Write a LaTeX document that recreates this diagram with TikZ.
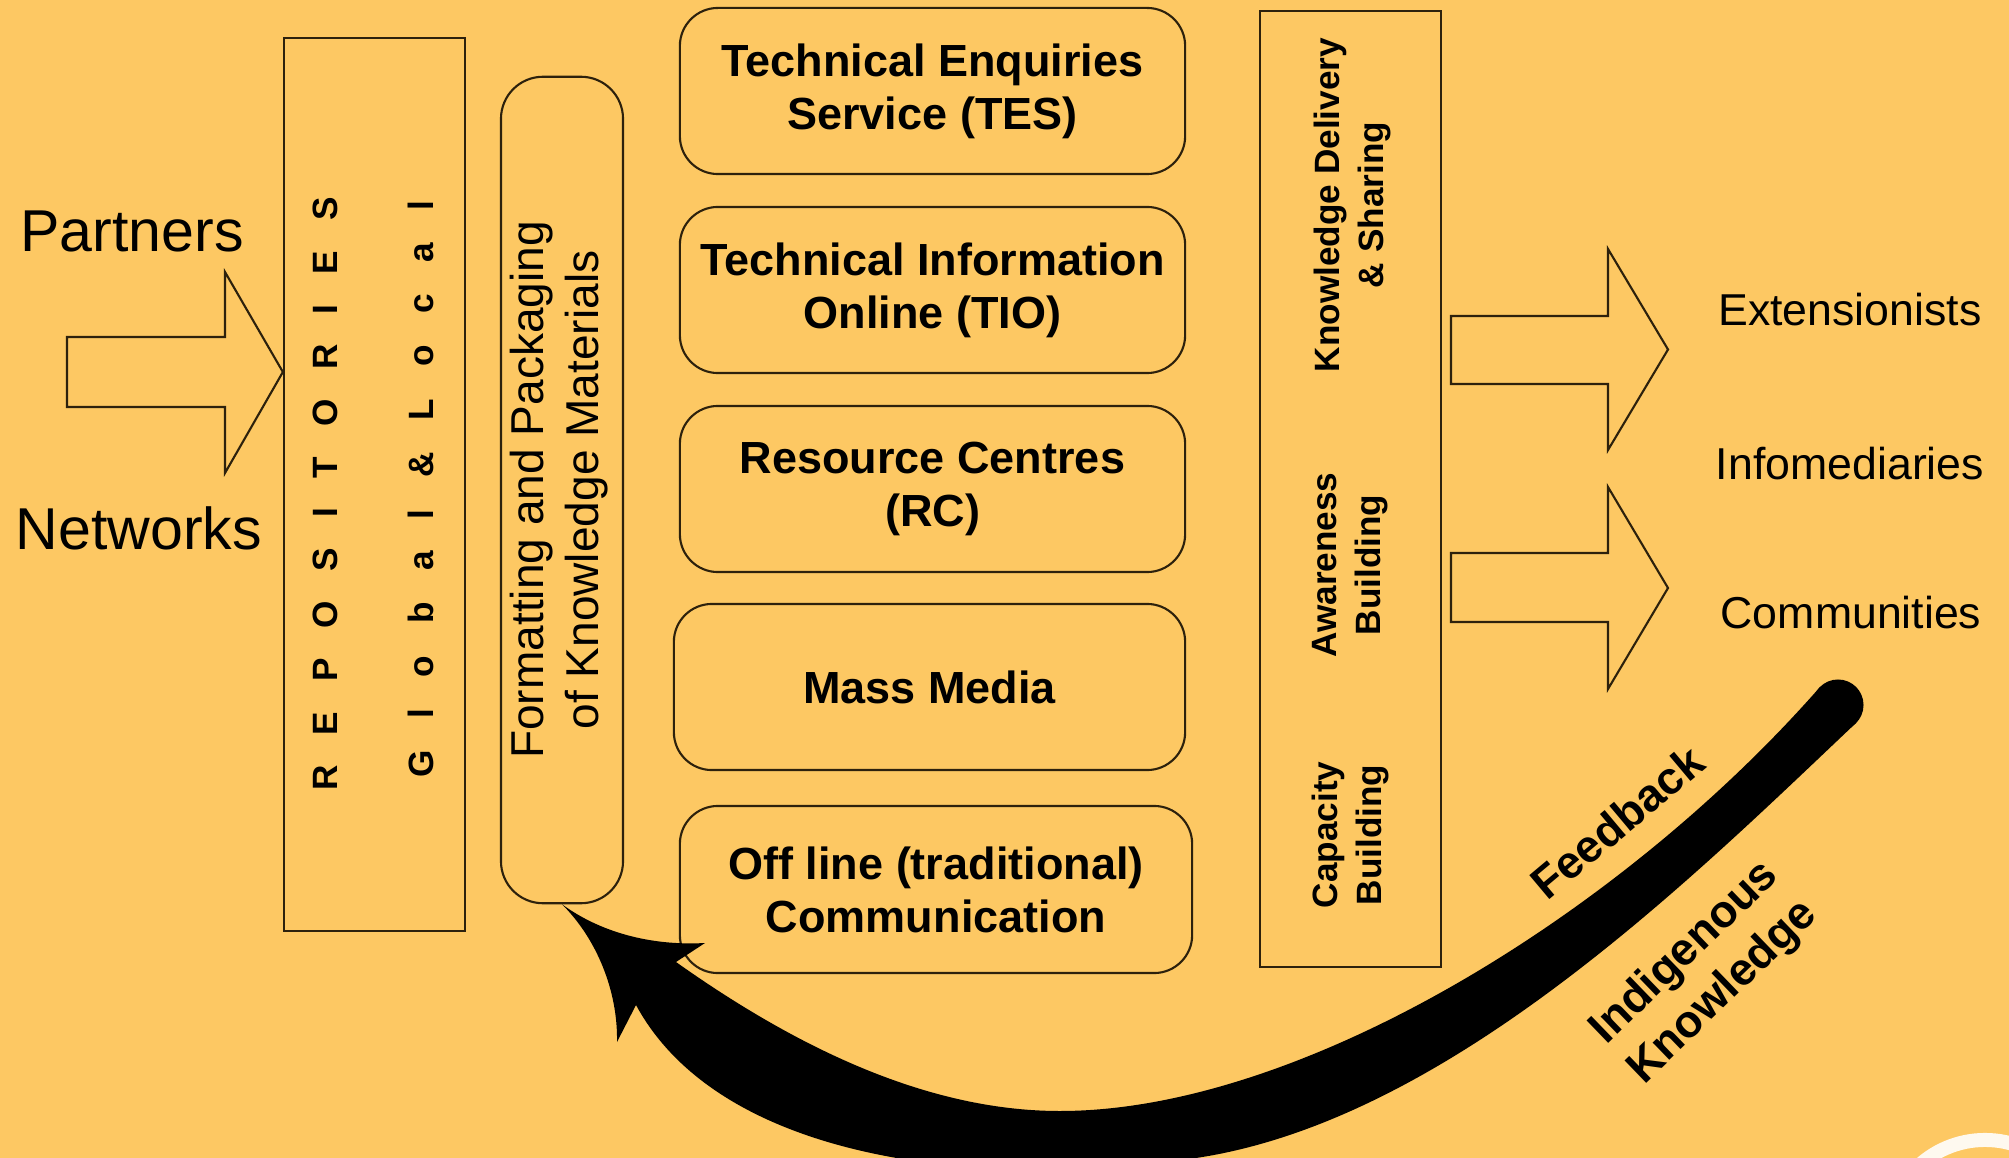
\documentclass[tikz,border=0pt]{standalone}
\usepackage{fontspec}
\setmainfont{Liberation Sans}
\definecolor{bgc}{RGB}{253,200,99}
\definecolor{linec}{RGB}{45,33,12}
\begin{document}
\begin{tikzpicture}[x=0.01cm,y=-0.01cm,
  outl/.style={draw=linec, line width=0.6pt},
  rbox/.style={outl, rounded corners=0.38cm, inner sep=0pt, align=center,
     font=\bfseries\fontsize{12.8pt}{15.1pt}\selectfont},
  sqbox/.style={outl, inner sep=0pt},
  spaced/.style={rotate=90, anchor=base, inner sep=0pt, font=\bfseries\fontsize{10pt}{12pt}\selectfont},
  sidetext/.style={rotate=90, align=center, inner sep=0pt, font=\bfseries\fontsize{10pt}{12.5pt}\selectfont},
  biglabel/.style={anchor=base, inner sep=0pt, font=\fontsize{16.8pt}{20pt}\selectfont},
  target/.style={anchor=base, inner sep=0pt, font=\fontsize{12.7pt}{15pt}\selectfont},
  curvelabel/.style={align=center, inner sep=0pt, font=\bfseries\fontsize{12.9pt}{15.6pt}\selectfont}]

\fill[bgc] (0,0) rectangle (2009,1158);
\useasboundingbox (0,0) rectangle (2009,1158);
\clip (0,0) rectangle (2009,1158);

% left labels and arrow
\node[biglabel] (partners) at (132,252) {Partners};
\node[biglabel] (networks) at (139,549) {Networks};

% repositories
\node[sqbox, minimum width=1.81cm, minimum height=8.93cm] (repo) at (374.5,484.5) {};
\foreach \ch/\yy [count=\i] in {R/777.6,E/723.3,P/670,O/615,S/559.5,I/513,T/467.3,O/413,R/357,I/309.5,E/263,S/209}
  \node[spaced] (rep\i) at (337,\yy) {\ch};
\foreach \ch/\yy [count=\i] in {G/764,l/713.8,o/666.4,b/613,a/560.6,l/514.3,\&/465,L/409.5,o/356.1,c/303.7,a/252.3,l/206}
  \node[spaced] (glo\i) at (433,\yy) {\ch};

\draw[outl] (67,337) -- (225,337) -- (225,272) -- (repo.west |- 0,372) -- (225,473) -- (225,407) -- (67,407) -- cycle;

% formatting
\node[outl, rounded corners=0.42cm, minimum width=1.22cm, minimum height=8.26cm, inner sep=0pt] (fmt) at (562,490) {};
\node[rotate=90, align=center, inner sep=0pt, font=\fontsize{13.1pt}{15.8pt}\selectfont] (fmttext) at (559,490) {Formatting and Packaging\\of Knowledge Materials};

% channels
\node[rbox, minimum width=5.05cm, minimum height=1.66cm] (tes) at (932.5,91) {Technical Enquiries\\Service (TES)};
\node[rbox, minimum width=5.05cm, minimum height=1.66cm] (tio) at (932.5,290) {Technical Information\\Online (TIO)};
\node[rbox, minimum width=5.05cm, minimum height=1.66cm] (rc) at (932.5,489) {Resource Centres\\(RC)};
\node[rbox, minimum width=5.11cm, minimum height=1.66cm] (mm) at (929.5,687) {Mass Media};
\node[rbox, minimum width=5.12cm, minimum height=1.67cm] (ol) at (936,889.5) {Off line (traditional)\\Communication};

% delivery column
\node[sqbox, minimum width=1.81cm, minimum height=9.56cm] (kd) at (1350.5,489) {};
\node[sidetext] (kdt) at (1352,205) {Knowledge Delivery\\\& Sharing};
\node[sidetext] (abt) at (1350,565) {Awareness\\Building};
\node[sidetext] (cbt) at (1350,835) {Capacity\\Building};

% right arrows
\draw[outl] (1451,316) -- (1608,316) -- (1608,249) -- (1668,349.5) -- (1608,450) -- (1608,384) -- (1451,384) -- cycle;
\draw[outl] (1451,553) -- (1608,553) -- (1608,487) -- (1668,588) -- (1608,689) -- (1608,622) -- (1451,622) -- cycle;

\node[target] (ext) at (1850,326) {Extensionists};
\node[target] (info) at (1850,480) {Infomediaries};
\node[target] (comm) at (1851,628) {Communities};

% feedback curved arrow
\coordinate (tip) at (fmt.south);
\fill[black] (tip) .. controls (600,932) and (650,946) .. (705,943) -- (676,962)
  .. controls (800,1050) and (930,1111) .. (1060,1111)
  .. controls (1300,1111) and (1620,915) .. (1820,687)
  -- (1856,723)
  .. controls (1695,875) and (1450,1120) .. (1196,1158)
  .. controls (978,1190.6) and (720,1160) .. (636,1005)
  -- (617,1042) .. controls (618,990) and (596,938) .. (tip) -- cycle;
\fill[black] (1838,705) circle[radius=0.255cm];

\node[curvelabel, rotate=40] (fb) at (1617,822) {Feedback};
\node[curvelabel, rotate=44] (ik) at (1704,973) {Indigenous\\Knowledge};

% logo fragment
\draw[white, opacity=0.9, line width=0.14cm] (1985,1238) circle[radius=0.98cm];
\end{tikzpicture}
\end{document}
